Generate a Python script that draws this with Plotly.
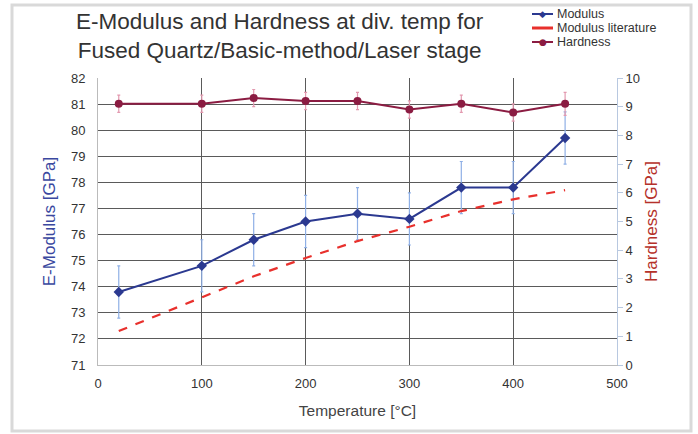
import plotly.graph_objects as go

temps = [20, 100, 150, 200, 250, 300, 350, 400, 450]
modulus = [73.8, 74.8, 75.8, 76.5, 76.8, 76.6, 77.8, 77.8, 79.7]
modulus_err = [1.0, 1.0, 1.0, 1.0, 1.0, 1.0, 1.0, 1.0, 1.0]
modulus_lit = [72.3, 73.6, 74.4, 75.1, 75.75, 76.3, 76.9, 77.35, 77.7]
hardness = [9.1, 9.1, 9.3, 9.2, 9.2, 8.9, 9.1, 8.8, 9.1]
hardness_err = [0.3, 0.3, 0.3, 0.3, 0.3, 0.3, 0.3, 0.3, 0.4]

series_names = ["Modulus", "Modulus literature", "Hardness"]
title_lines = ["E-Modulus and Hardness at div. temp for", "Fused Quartz/Basic-method/Laser stage"]
x_title = "Temperature [°C]"
y1_title = "E-Modulus [GPa]"
y2_title = "Hardness [GPa]"

W, H = 698, 434
L, R, T, B = 98, 81, 78, 69
pw, ph = W - L - R, H - T - B

def px(x):
    return (x - L) / pw

def py(y):
    return (H - B - y) / ph

font = "Liberation Sans, Arial, sans-serif"
c_mod, c_lit, c_hard = "#2b3990", "#e8302c", "#8b1c42"

fig = go.Figure()
fig.add_trace(go.Scatter(
    x=temps, y=modulus, name=series_names[0], mode="lines+markers",
    line=dict(color=c_mod, width=2),
    marker=dict(symbol="diamond", size=8, color=c_mod),
    error_y=dict(type="data", array=modulus_err, color="#8fb0e6", thickness=1.2, width=1.5),
))
fig.add_trace(go.Scatter(
    x=temps, y=modulus_lit, name=series_names[1], mode="lines",
    line=dict(color=c_lit, width=2.2, dash="dash"),
))
fig.add_trace(go.Scatter(
    x=temps, y=hardness, name=series_names[2], mode="lines+markers", yaxis="y2",
    line=dict(color=c_hard, width=2),
    marker=dict(symbol="circle", size=8, color=c_hard),
    error_y=dict(type="data", array=hardness_err, color="#e39ab0", thickness=1.2, width=1.5),
))

# compact legend (drawn as annotations/shapes to match the tight original spacing)
leg_y = [14, 28, 42]
leg_colors = [c_mod, c_lit, c_hard]
leg_glyph = ["◆", "", "●"]
annotations = [dict(text="<br>".join(title_lines), x=px(280), y=py(36), xref="paper", yref="paper",
                    xanchor="center", yanchor="middle", showarrow=False,
                    font=dict(size=22.5, color="#333333", family=font))]
shapes = [dict(type="rect", xref="paper", yref="paper",
               x0=px(12), x1=px(691), y0=py(431), y1=py(5),
               line=dict(color="#d9d9d9", width=3), fillcolor="rgba(0,0,0,0)", layer="below")]
for name, yy, col, g in zip(series_names, leg_y, leg_colors, leg_glyph):
    shapes.append(dict(type="line", xref="paper", yref="paper",
                       x0=px(532), x1=px(553), y0=py(yy), y1=py(yy),
                       line=dict(color=col, width=3 if g == "" else 2)))
    if g:
        annotations.append(dict(text=g, x=px(542.5), y=py(yy), xref="paper", yref="paper",
                                xanchor="center", yanchor="middle", showarrow=False,
                                font=dict(size=9, color=col, family="DejaVu Sans")))
    annotations.append(dict(text=name, x=px(555), y=py(yy), xref="paper", yref="paper",
                            xanchor="left", yanchor="middle", showarrow=False,
                            font=dict(size=12.5, color="#333333", family=font)))

fig.update_layout(
    width=W, height=H,
    margin=dict(l=L, r=R, t=T, b=B, autoexpand=False),
    paper_bgcolor="white", plot_bgcolor="white",
    font=dict(family=font, color="#333333"),
    showlegend=False,
    xaxis=dict(range=[0, 500], dtick=100, showgrid=True, gridcolor="#5a5a5a", gridwidth=1.3,
               zeroline=False, showline=True, linecolor="#bbbbbb", linewidth=1,
               ticks="outside", ticklen=6, tickcolor="rgba(0,0,0,0)",
               tickfont=dict(size=13, color="#333333"),
               title=dict(text=x_title, font=dict(size=15.5, color="#444444"), standoff=15)),
    yaxis=dict(range=[71, 82], dtick=1, showgrid=True, gridcolor="#5a5a5a", gridwidth=1.3,
               zeroline=False, showline=True, linecolor="#bbbbbb",
               ticks="outside", ticklen=9, tickcolor="rgba(0,0,0,0)",
               tickfont=dict(size=13, color="#333333"),
               title=dict(text=y1_title, font=dict(size=17, color="#3a48a0"), standoff=10)),
    yaxis2=dict(range=[0, 10], dtick=1, overlaying="y", side="right", showgrid=False,
                zeroline=False, showline=True, linecolor="#b8c8e0", linewidth=1,
                ticks="outside", ticklen=5, tickcolor="#b8c8e0",
                tickfont=dict(size=13, color="#333333"),
                title=dict(text=y2_title, font=dict(size=17, color="#b5312a"), standoff=6)),
    annotations=annotations,
    shapes=shapes,
)

fig.write_html("out.html", config={"displayModeBar": False},
               post_script="document.body.style.margin='0px';")
